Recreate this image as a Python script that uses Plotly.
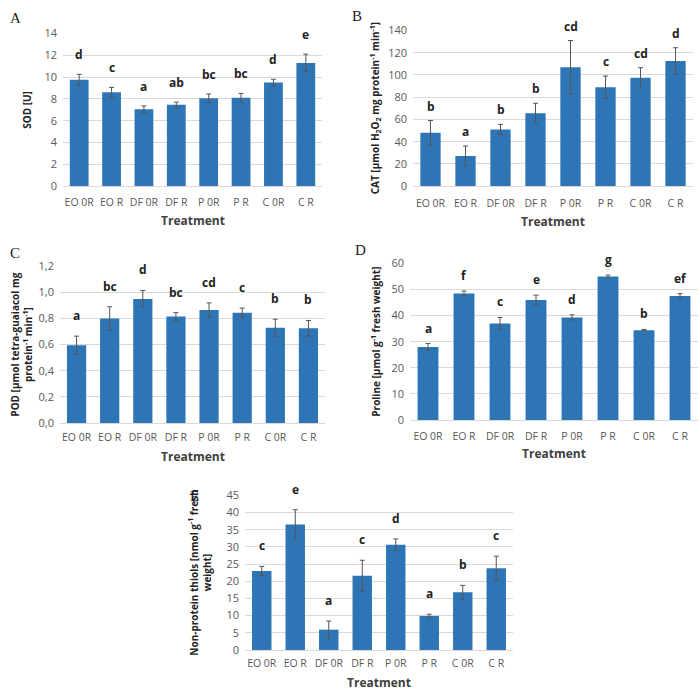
import plotly.graph_objects as go

categories = ["EO 0R", "EO R", "DF 0R", "DF R", "P 0R", "P R", "C 0R", "C R"]

sod_values = [9.75, 8.6, 7.05, 7.45, 8.05, 8.1, 9.5, 11.3]
sod_errors = [0.5, 0.45, 0.3, 0.25, 0.4, 0.4, 0.3, 0.8]
sod_letters = ["d", "c", "a", "ab", "bc", "bc", "d", "e"]

cat_values = [48, 27, 51, 65.5, 107, 89, 97.5, 112.5]
cat_errors = [11, 9, 4.5, 9, 24, 10, 9, 12]
cat_letters = ["b", "a", "b", "b", "cd", "c", "cd", "d"]

pod_values = [0.595, 0.80, 0.95, 0.815, 0.865, 0.845, 0.73, 0.725]
pod_errors = [0.07, 0.09, 0.065, 0.03, 0.055, 0.035, 0.065, 0.06]
pod_letters = ["a", "bc", "d", "bc", "cd", "c", "b", "b"]

pro_values = [28, 48.5, 37, 46, 39.3, 55, 34.4, 47.5]
pro_errors = [1.3, 0.9, 2.3, 1.8, 1.0, 0.5, 0.3, 0.9]
pro_letters = ["a", "f", "c", "e", "d", "g", "b", "ef"]

npt_values = [23, 36.5, 5.9, 21.6, 30.6, 9.9, 16.8, 23.8]
npt_errors = [1.3, 4.3, 2.5, 4.5, 1.7, 0.5, 2.0, 3.5]
npt_letters = ["c", "e", "a", "c", "d", "a", "b", "c"]

W = H = 700
def px(x): return x / W
def py(y): return 1 - y / H

BAR = "#2e75b6"
TICK = "#595959"
GRID = "#d9d9d9"
FONT = "Open Sans"

panels = [
    dict(v=sod_values, e=sod_errors, l=sod_letters, box=(63, 322, 26, 182), rng=[0, 14], dt=2,
         lab="A", lab_xy=(8, 10), title="SOD [U]", tx=27, tr_y=217, tickfmt=None, ls=9, xs=6),
    dict(v=cat_values, e=cat_errors, l=cat_letters, box=(413, 693, 23, 182), rng=[0, 140], dt=20,
         lab="B", lab_xy=(350, 8),
         title="CAT [µmol H<sub>2</sub>O<sub>2</sub> mg protein<sup>-1</sup> min<sup>-1</sup>]", tx=375, tr_y=218, tickfmt=None, ls=4, xs=7),
    dict(v=pod_values, e=pod_errors, l=pod_letters, box=(60, 325, 264, 424), rng=[0, 1.2], dt=0.2,
         lab="C", lab_xy=(8, 250),
         title="POD [µmol tetra-guaiacol mg<br>protein<sup>-1</sup> min<sup>-1</sup>]", tx=22, tr_y=458, tickfmt=".1f", ls=10, xs=4),
    dict(v=pro_values, e=pro_errors, l=pro_letters, box=(410, 698, 261, 421), rng=[0, 60], dt=10,
         lab="D", lab_xy=(353, 247), title="Proline [µmol g<sup>-1</sup> fresh weight]", tx=376, tr_y=455, tickfmt=None, ls=5, xs=6),
    dict(v=npt_values, e=npt_errors, l=npt_letters, box=(245, 513, 498, 656), rng=[0, 45], dt=5,
         lab="E", lab_xy=(188, 499),
         title="Non-protein thiols [nmol g<sup>-1</sup> fresh<br>weight]", tx=200, tr_y=None, tickfmt=None, ls=10, xs=3),
]

fig = go.Figure()
annotations = []
layout = {}
for i, p in enumerate(panels, start=1):
    xa = "x" if i == 1 else f"x{i}"
    ya = "y" if i == 1 else f"y{i}"
    x0, x1, y0, y1 = p["box"]
    fig.add_trace(go.Bar(
        x=categories, y=p["v"], xaxis=xa, yaxis=ya,
        marker=dict(color=BAR, line=dict(width=0)),
        error_y=dict(type="data", array=p["e"], visible=True, color="#555555", thickness=1, width=2.5),
        showlegend=False, hoverinfo="skip",
    ))
    layout["xaxis" if i == 1 else f"xaxis{i}"] = dict(
        domain=[px(x0), px(x1)], anchor=ya, type="category",
        tickfont=dict(family=FONT, size=10.5, color=TICK), showgrid=False,
        showline=True, linecolor=GRID, linewidth=1, ticks="", zeroline=False,
        ticklabelstandoff=p["xs"], fixedrange=True,
    )
    layout["yaxis" if i == 1 else f"yaxis{i}"] = dict(
        domain=[py(y1), py(y0)], anchor=xa, range=p["rng"], dtick=p["dt"],
        tickformat=p["tickfmt"], tickfont=dict(family=FONT, size=11, color=TICK),
        showgrid=True, gridcolor=GRID, gridwidth=1, zeroline=False, showline=False,
        ticks="", ticklabelstandoff=5, fixedrange=True,
    )
    for c, v, e, l in zip(categories, p["v"], p["e"], p["l"]):
        annotations.append(dict(
            x=c, y=v + e, xref=xa, yref=ya, text=f"<b>{l}</b>", showarrow=False,
            yanchor="bottom", yshift=p["ls"], font=dict(family=FONT, size=12, color="#222222"),
        ))
    annotations.append(dict(
        x=px(p["lab_xy"][0]), y=py(p["lab_xy"][1]), xref="paper", yref="paper",
        text=p["lab"], showarrow=False, xanchor="left", yanchor="middle",
        font=dict(family="Liberation Serif", size=15, color="#222222"),
    ))
    if p["tr_y"] is None:
        ty, yanc = 0, "bottom"
    else:
        ty, yanc = py(p["tr_y"]), "middle"
    annotations.append(dict(
        x=px((x0 + x1) / 2), y=ty, xref="paper", yref="paper",
        text="<b>Treatment</b>", showarrow=False, xanchor="center", yanchor=yanc,
        font=dict(family=FONT, size=12, color="#404040"),
    ))
    annotations.append(dict(
        x=px(p["tx"]), y=py((y0 + y1) / 2), xref="paper", yref="paper",
        text=f"<b>{p['title']}</b>", showarrow=False, textangle=-90,
        xanchor="center", yanchor="middle",
        font=dict(family=FONT, size=10, color="#222222"),
    ))

fig.update_layout(
    width=W, height=H, margin=dict(l=0, r=0, t=0, b=0),
    paper_bgcolor="white", plot_bgcolor="white",
    bargap=0.42, separators=",.",
    annotations=annotations, **layout,
)
fig.write_html("out.html", config={"displayModeBar": False},
               post_script="document.body.style.margin='0';document.body.style.padding='0';")
